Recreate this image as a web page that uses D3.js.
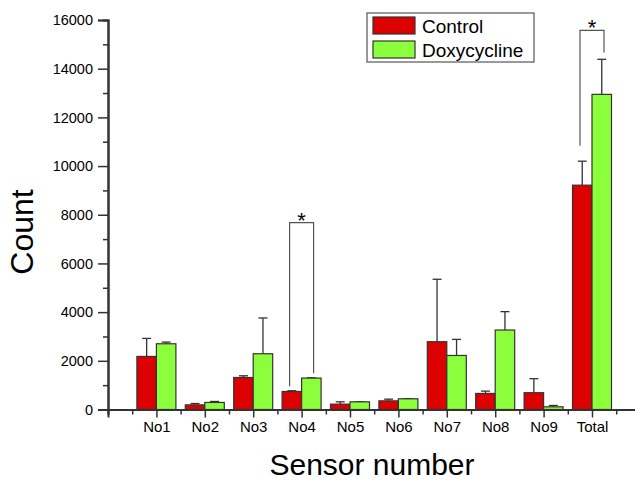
<!DOCTYPE html>
<html>
<head>
<meta charset="utf-8">
<script src="https://cdn.jsdelivr.net/npm/d3@7"></script>
<style>
body { margin: 0; background: #fff; }
text { font-family: "Liberation Sans", Arial, sans-serif; }
</style>
</head>
<body>
<svg id="chart" width="635" height="480"></svg>
<script>
// data
const categories = ["No1", "No2", "No3", "No4", "No5", "No6", "No7", "No8", "No9", "Total"];
const seriesNames = ["Control", "Doxycycline"];
const controlMean = [2180, 190, 1315, 740, 220, 355, 2785, 660, 690, 9215];
const controlErr  = [740, 55, 70, 30, 95, 70, 2565, 95, 575, 985];
const doxyMean    = [2700, 290, 2290, 1290, 315, 440, 2220, 3265, 110, 12945];
const doxyErr     = [70, 40, 1470, 10, 5, 5, 660, 755, 55, 1440];
const yTicks = [0, 2000, 4000, 6000, 8000, 10000, 12000, 14000, 16000];
const yMinorTicks = [1000, 3000, 5000, 7000, 9000, 11000, 13000, 15000];
// significance brackets: category, top of bracket, bottom of left / right legs
const bracketCat   = ["No4", "Total"];
const bracketTop   = [7680, 15570];
const bracketLeft  = [960, 10830];
const bracketRight = [1490, 14670];

const colors = ["#dc0000", "#8cff3c"];
const axisColor = "#333";

const svg = d3.select("#chart");

const x = d3.scaleLinear().domain([0, 11]).range([108, 108 + 11 * 48.4]);
const y = d3.scaleLinear().domain([0, 16000]).range([409.5, 20]);
const barW = 19.5;

// bars
const series = [
	{ mean: controlMean, err: controlErr, off: -barW },
	{ mean: doxyMean, err: doxyErr, off: 0 }
];

series.forEach((s, k) => {
	const g = svg.append("g");
	// error bars (upper half only) drawn first
	g.selectAll("line.err")
		.data(s.mean)
		.enter()
		.append("line")
		.attr("x1", (d, i) => x(i + 1) + s.off + barW / 2)
		.attr("x2", (d, i) => x(i + 1) + s.off + barW / 2)
		.attr("y1", d => y(d))
		.attr("y2", (d, i) => y(d + s.err[i]))
		.style("stroke", axisColor)
		.style("stroke-width", 1.3);
	g.selectAll("line.cap")
		.data(s.mean)
		.enter()
		.append("line")
		.attr("x1", (d, i) => x(i + 1) + s.off + barW / 2 - 4.5)
		.attr("x2", (d, i) => x(i + 1) + s.off + barW / 2 + 4.5)
		.attr("y1", (d, i) => y(d + s.err[i]))
		.attr("y2", (d, i) => y(d + s.err[i]))
		.style("stroke", axisColor)
		.style("stroke-width", 1.3);
	g.selectAll("rect")
		.data(s.mean)
		.enter()
		.append("rect")
		.attr("x", (d, i) => x(i + 1) + s.off)
		.attr("y", d => y(d))
		.attr("width", barW)
		.attr("height", d => y(0) - y(d))
		.style("fill", colors[k])
		.style("stroke", axisColor)
		.style("stroke-width", 1.2);
});

// y axis
const yAxis = svg.append("g")
	.attr("transform", "translate(" + x(0) + ",0)")
	.call(d3.axisLeft(y).tickValues(yTicks).tickFormat(d3.format("d")).tickSize(10).tickPadding(5));
svg.append("g")
	.attr("transform", "translate(" + x(0) + ",0)")
	.call(d3.axisLeft(y).tickValues(yMinorTicks).tickSize(5).tickFormat(""));

// x axis
const xAxis = svg.append("g")
	.attr("transform", "translate(0," + y(0) + ")")
	.call(d3.axisBottom(x)
		.tickValues(d3.range(1, categories.length + 1))
		.tickFormat(d => categories[d - 1])
		.tickSize(8).tickPadding(4));
svg.append("g")
	.attr("transform", "translate(0," + y(0) + ")")
	.call(d3.axisBottom(x)
		.tickValues([0].concat(d3.range(0.5, 11, 1)))
		.tickSize(5).tickFormat(""));

svg.selectAll(".domain").style("stroke", axisColor).style("stroke-width", 2);
svg.selectAll(".tick line").style("stroke", axisColor).style("stroke-width", 1.5);
yAxis.selectAll("text").style("font-size", "14.5px").style("fill", "#000");
xAxis.selectAll("text").style("font-size", "15px").style("fill", "#000");

// significance brackets
bracketCat.forEach((c, j) => {
	const cx = x(categories.indexOf(c) + 1);
	const xl = cx - 12, xr = cx + 12;
	svg.append("path")
		.attr("d", d3.line()([[xl, y(bracketLeft[j])], [xl, y(bracketTop[j])],
			[xr, y(bracketTop[j])], [xr, y(bracketRight[j])]]))
		.style("fill", "none")
		.style("stroke", "#555")
		.style("stroke-width", 1.2);
	svg.append("text")
		.attr("x", cx)
		.attr("y", y(bracketTop[j]) + 5)
		.attr("text-anchor", "middle")
		.style("font-size", "22px")
		.text("*");
});

// legend
const legend = svg.append("g");
legend.append("rect")
	.attr("x", 367).attr("y", 13)
	.attr("width", 167).attr("height", 49)
	.style("fill", "#fff")
	.style("stroke", "#555")
	.style("stroke-width", 1.2);
seriesNames.forEach((n, k) => {
	legend.append("rect")
		.attr("x", 373).attr("y", 17 + k * 24)
		.attr("width", 42).attr("height", 17)
		.style("fill", colors[k])
		.style("stroke", axisColor)
		.style("stroke-width", 1.2);
	legend.append("text")
		.attr("x", 422).attr("y", 33 + k * 24)
		.style("font-size", "19px")
		.text(n);
});

// axis titles
svg.append("text")
	.attr("transform", "translate(33,232) rotate(-90)")
	.attr("text-anchor", "middle")
	.style("font-size", "32px")
	.text("Count");
svg.append("text")
	.attr("x", 372).attr("y", 475)
	.attr("text-anchor", "middle")
	.style("font-size", "30px")
	.text("Sensor number");
</script>
</body>
</html>
